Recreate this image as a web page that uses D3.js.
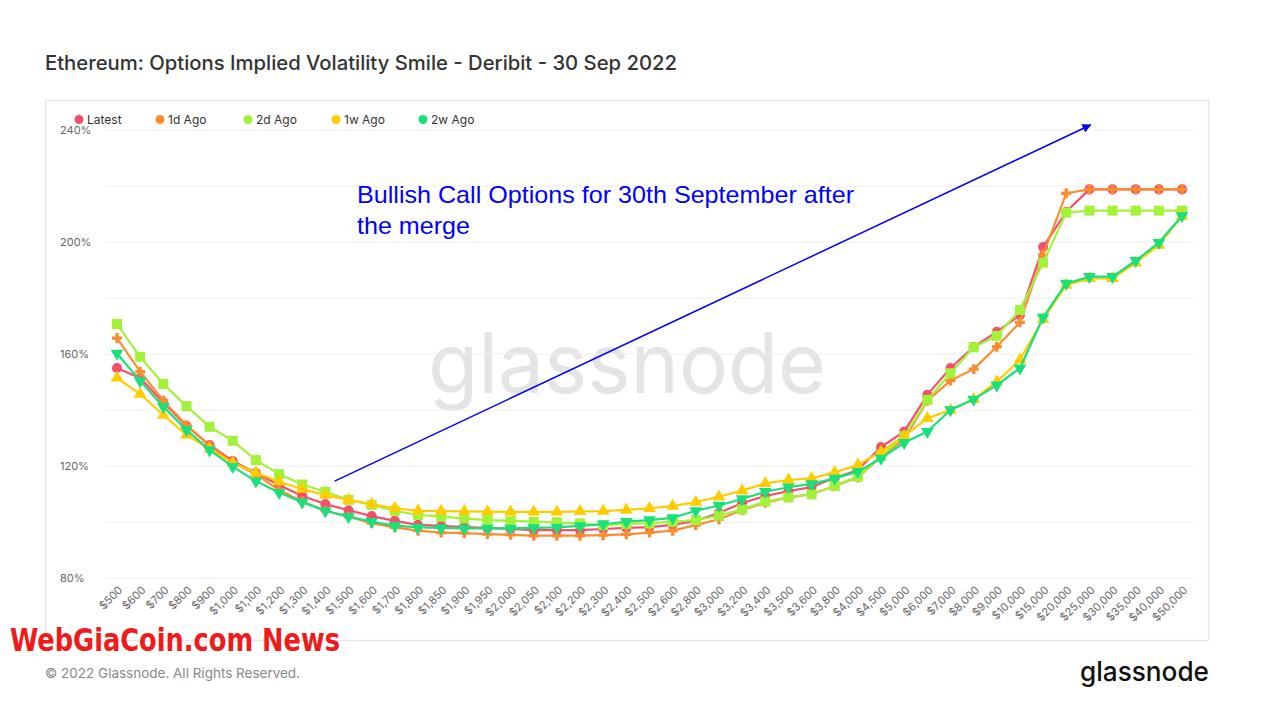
<!DOCTYPE html>
<html><head><meta charset="utf-8">
<script src="https://cdn.jsdelivr.net/npm/d3@7"></script>
<style>
html,body{margin:0;padding:0;background:#fff;}
svg{display:block;}
</style></head>
<body><svg id="c" width="1284" height="721"></svg>
<script>
const categories = ["$500","$600","$700","$800","$900","$1,000","$1,100","$1,200","$1,300","$1,400","$1,500","$1,600","$1,700","$1,800","$1,850","$1,900","$1,950","$2,000","$2,050","$2,100","$2,200","$2,300","$2,400","$2,500","$2,600","$2,800","$3,000","$3,200","$3,400","$3,500","$3,600","$3,800","$4,000","$4,500","$5,000","$6,000","$7,000","$8,000","$9,000","$10,000","$15,000","$20,000","$25,000","$30,000","$35,000","$40,000","$50,000"];

const latest = [155.0,151.4,142.7,134.3,127.5,121.8,117.5,113.2,109.3,106.4,104.2,102.1,100.4,99.0,98.6,98.2,97.9,97.5,97.1,97.1,97.1,97.5,97.9,98.2,99.0,100.4,103.2,106.8,109.3,111.0,112.5,115.7,118.6,126.8,132.3,145.4,155.0,162.5,167.9,173.9,198.2,210.8,218.8,218.8,218.8,218.8,218.8];
const ago1d = [165.7,153.7,143.3,134.6,127.3,121.2,117.1,111.4,107.3,104.0,101.9,99.6,98.1,96.9,96.2,96.0,95.7,95.4,95.1,95.1,95.1,95.3,95.6,96.2,96.9,98.9,101.0,104.3,106.9,108.8,109.9,112.9,115.9,123.3,129.6,143.3,150.5,154.6,162.6,171.3,195.4,217.4,218.8,218.8,218.8,218.8,218.8];
const ago2d = [170.7,159.0,149.3,141.4,134.0,129.0,122.1,117.1,113.4,110.8,107.9,106.1,104.0,102.5,101.9,101.3,100.7,100.4,100.1,99.9,99.5,98.9,99.3,99.5,100.1,100.7,102.3,104.5,107.3,108.8,109.9,112.9,116.2,123.6,130.7,143.6,153.1,162.4,166.5,175.7,192.6,210.5,211.2,211.2,211.2,211.2,211.2];
const ago1w = [151.5,145.7,138.2,131.1,126.0,121.2,117.6,114.4,111.8,109.6,107.9,106.4,104.9,104.0,103.9,103.8,103.7,103.6,103.6,103.6,103.8,103.9,104.3,104.9,105.7,107.1,109.0,111.2,113.8,115.0,115.6,117.7,120.4,125.1,130.7,137.0,140.0,143.8,150.1,157.9,172.4,184.6,187.0,187.0,192.6,198.9,209.3];
const ago2w = [160.2,150.4,141.2,132.9,125.7,119.8,114.6,110.5,107.1,104.0,101.9,100.1,98.7,98.1,97.9,97.7,97.7,97.7,97.9,98.1,98.6,99.2,100.1,100.7,101.5,104.0,105.9,108.2,110.8,112.4,113.6,115.6,118.0,122.7,128.3,132.3,140.0,143.8,148.9,154.9,173.1,185.2,187.6,187.6,193.3,199.8,209.3];

const seriesNames = ["Latest","1d Ago","2d Ago","1w Ago","2w Ago"];
const seriesValues = [latest, ago1d, ago2d, ago1w, ago2w];
const seriesColors = ["#f5506b","#fb8c2f","#a2f23a","#ffcc00","#18e07a"];
const seriesSymbols = [d3.symbolCircle, d3.symbolCross, d3.symbolSquare, d3.symbolTriangle, d3.symbolTriangle];
const yTicks = [80,100,120,140,160,180,200,220,240];
const yLabelTicks = [80,120,160,200,240];

const svg = d3.select("#c");
const FONT = "Inter, 'Noto Sans', sans-serif";

// title
svg.append("text").attr("x",45).attr("y",70).attr("font-family",FONT).attr("font-size",20)
  .attr("font-weight",500).attr("fill","#333").attr("textLength",632).attr("lengthAdjust","spacingAndGlyphs")
  .text("Ethereum: Options Implied Volatility Smile - Deribit - 30 Sep 2022");

// panel
svg.append("rect").attr("x",45.5).attr("y",100.5).attr("width",1163).attr("height",540)
  .attr("fill","#fff").attr("stroke","#e8e8e8").attr("stroke-width",1.5);

const x = d3.scalePoint().domain(categories).range([117,1182]);
const y = d3.scaleLinear().domain([80,240]).range([578,130]);

// watermark
svg.append("text").attr("x",428).attr("y",393)
  .attr("font-family",FONT).attr("font-size",84).attr("font-weight",400)
  .attr("fill","#e4e4e4").attr("textLength",398).attr("lengthAdjust","spacingAndGlyphs").text("glassnode");

// grid
svg.append("g").selectAll("line").data(yTicks).join("line")
  .attr("x1",105).attr("x2",1193).attr("y1",d=>y(d)).attr("y2",d=>y(d))
  .attr("stroke","#f0f0f0").attr("stroke-width",1);

svg.append("g").selectAll("text").data(yLabelTicks).join("text")
  .attr("x",60).attr("y",d=>y(d)).attr("dy","0.35em")
  .attr("font-family",FONT).attr("font-size",11).attr("fill","#666")
  .text(d=>d+"%");

// x axis labels
const xAxis = d3.axisBottom(x).tickSize(0).tickPadding(0);
const gx = svg.append("g").attr("transform","translate(0,586)").call(xAxis);
gx.select(".domain").remove();
gx.selectAll("text").attr("font-family",FONT).attr("font-size",11).attr("fill","#666")
  .attr("text-anchor","end").attr("dy","0.35em")
  .attr("transform","translate(3,2) rotate(-45)");

// lines
const line = d3.line().x((d,i)=>x(categories[i])).y(d=>y(d));
seriesValues.forEach((vals,si)=>{
  svg.append("path").datum(vals).attr("d",line).attr("fill","none")
    .attr("stroke",seriesColors[si]).attr("stroke-width",2.2).attr("stroke-linejoin","round");
  const sizes=[80,55,100,70,70];
  svg.append("g").selectAll("path").data(vals).join("path")
    .attr("transform",(d,i)=>`translate(${x(categories[i])},${y(d)})${si===4?" rotate(180)":""}`)
    .attr("d",d3.symbol().type(seriesSymbols[si]).size(sizes[si]))
    .attr("fill",seriesColors[si]);
});

// legend
const legX = [79,160,248,336,423];
seriesNames.forEach((n,i)=>{
  svg.append("circle").attr("cx",legX[i]).attr("cy",119.5).attr("r",4.5).attr("fill",seriesColors[i]);
  svg.append("text").attr("x",legX[i]+8).attr("y",120).attr("dy","0.35em")
    .attr("font-family",FONT).attr("font-size",12).attr("fill","#333").text(n);
});

// annotation arrow
const step = x.step();
const ax1 = x("$1,400")+0.4*step, ay1 = y(114.6);
const ax2 = x("$25,000")+0.05*step, ay2 = y(241.8);
const defs = svg.append("defs");
defs.append("marker").attr("id","ah").attr("viewBox","0 0 10 10").attr("refX",9).attr("refY",5)
  .attr("markerWidth",9).attr("markerHeight",9).attr("markerUnits","userSpaceOnUse").attr("orient","auto")
  .append("path").attr("d","M0,0 L10,5 L0,10 z").attr("fill","#0000ff");
svg.append("line").attr("x1",ax1).attr("y1",ay1).attr("x2",ax2).attr("y2",ay2)
  .attr("stroke","#0000ff").attr("stroke-width",1.5).attr("marker-end","url(#ah)");

const annFont = "'Liberation Sans', Arial, sans-serif";
svg.append("text").attr("x",357).attr("y",203).attr("font-family",annFont).attr("font-size",24)
  .attr("fill","#0000ff").attr("textLength",497).attr("lengthAdjust","spacingAndGlyphs")
  .text("Bullish Call Options for 30th September after");
svg.append("text").attr("x",357).attr("y",234).attr("font-family",annFont).attr("font-size",24)
  .attr("fill","#0000ff").attr("textLength",113).attr("lengthAdjust","spacingAndGlyphs")
  .text("the merge");

// footer
svg.append("text").attr("x",45).attr("y",678).attr("font-family",FONT).attr("font-size",13.5)
  .attr("fill","#888").attr("textLength",255).attr("lengthAdjust","spacingAndGlyphs")
  .text("© 2022 Glassnode. All Rights Reserved.");
svg.append("text").attr("x",1080).attr("y",681).attr("font-family",FONT)
  .attr("font-size",27).attr("font-weight",500).attr("fill","#111")
  .attr("textLength",129).attr("lengthAdjust","spacingAndGlyphs").text("glassnode");
svg.append("text").attr("x",10).attr("y",651).attr("font-family","'Liberation Sans Narrow', 'DejaVu Sans Condensed', sans-serif")
  .attr("font-size",32).attr("font-weight",700).attr("fill","#f01a1a")
  .attr("textLength",330).attr("lengthAdjust","spacingAndGlyphs").text("WebGiaCoin.com News");
</script></body></html>
